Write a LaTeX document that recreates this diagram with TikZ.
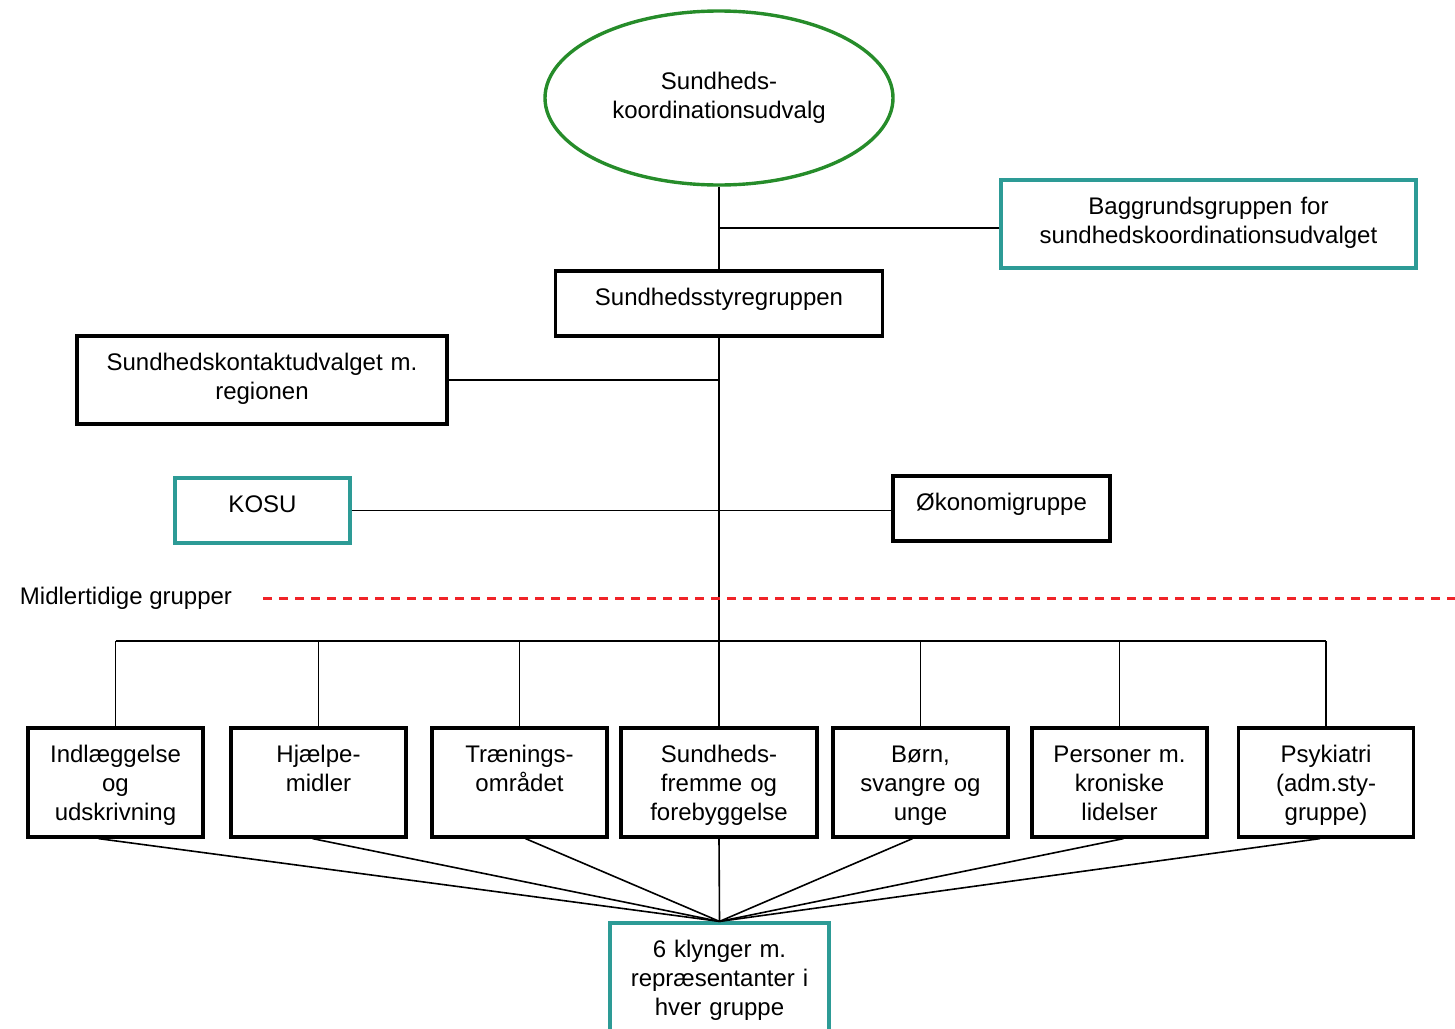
\documentclass[tikz,border=0pt]{standalone}
\usepackage{fontspec}
\setmainfont{Liberation Sans}
\usetikzlibrary{shapes.geometric}
\definecolor{udvgreen}{RGB}{38,140,42}
\definecolor{grpteal}{RGB}{45,155,150}
\definecolor{tmpred}{RGB}{240,35,40}
\tikzset{
  txt/.style={font=\fontsize{12}{14.5}\selectfont},
  box/.style={txt, draw, line width=1.6pt, align=center, inner sep=2pt, text height=15pt},
  grp/.style={box, text width=83.5pt, text depth=35.5pt},
  conn/.style={line width=0.8pt},
}
\begin{document}
\begin{tikzpicture}[x=0.5pt, y=-0.5pt]
  \clip (0,0) rectangle (1455,1028);
  % top of the organisation
  \node[txt, ellipse, draw=udvgreen, line width=1.7pt, minimum width=174pt, minimum height=87pt, align=center] (kudvalg) at (719,98) {Sundheds-\\koordinationsudvalg};
  \node[box, draw=grpteal, text width=203.5pt, text depth=25pt] (bagg) at (1208.5,224) {Baggrundsgruppen for\\sundhedskoordinationsudvalget};
  \node[box, text width=159.5pt, text depth=13.5pt] (styre) at (719,303.5) {Sundhedsstyregruppen};
  \node[box, text width=181pt, text depth=25pt] (kontakt) at (262,380) {Sundhedskontaktudvalget m.\\regionen};
  \node[box, draw=grpteal, text width=83.5pt, text depth=13.5pt] (kosu) at (262.5,510.5) {KOSU};
  \node[box, text width=104.5pt, text depth=13.5pt] (oekonomi) at (1001.5,508.5) {Økonomigruppe};
  % temporary groups
  \node[txt] (midl) at (126,598) {Midlertidige grupper};
  \coordinate (midlend) at (1455,598);
  \node[grp] (g1) at (115.5,782.5) {Indlæggelse\\og\\udskrivning};
  \node[grp] (g2) at (318.5,782.5) {Hjælpe-\\midler};
  \node[grp] (g3) at (519.5,782.5) {Trænings-\\området};
  \node[grp, text width=94pt] (g4) at (719,782.5) {Sundheds-\\fremme og\\forebyggelse};
  \node[grp] (g5) at (920.5,782.5) {Børn,\\svangre og\\unge};
  \node[grp] (g6) at (1119.5,782.5) {Personer m.\\kroniske\\lidelser};
  \node[grp] (g7) at (1326,782.5) {Psykiatri\\(adm.sty-\\gruppe)};
  \node[box, draw=grpteal, text width=105.5pt, text depth=38.5pt] (klynger) at (719.5,980.5) {6 klynger m.\\repræsentanter i\\hver gruppe};
  \coordinate (bus) at (719,641);

  \draw[conn] (kudvalg.south) -- (styre.north);
  \draw[conn] ([yshift=-2pt]bagg.west) -- ([yshift=-2pt]bagg.west -| kudvalg.south);
  \draw[conn] (styre.south) -- (g4.north);
  \draw[conn] (kontakt.east) -- (kontakt.east -| styre.south);
  \draw[conn] (kosu.east) -- (kosu.east -| oekonomi.west);
  \draw[tmpred, line width=1.5pt, dash pattern=on 4.5pt off 3.5pt] (midl.east) ++(24,0) -- (midlend);
  \draw[conn] (g1.north |- bus) -- (g7.north |- bus);
  \foreach \g in {g1,g2,g3,g5,g6,g7}
    \draw[conn] (\g.north) -- (\g.north |- bus);
  \foreach \g/\dx in {g1/-8.5pt,g2/-3pt,g3/3pt,g4/0pt,g5/-4pt,g6/2pt,g7/-3pt}
    \draw[conn] ([xshift=\dx]\g.south) -- (klynger.north);
\end{tikzpicture}
\end{document}
